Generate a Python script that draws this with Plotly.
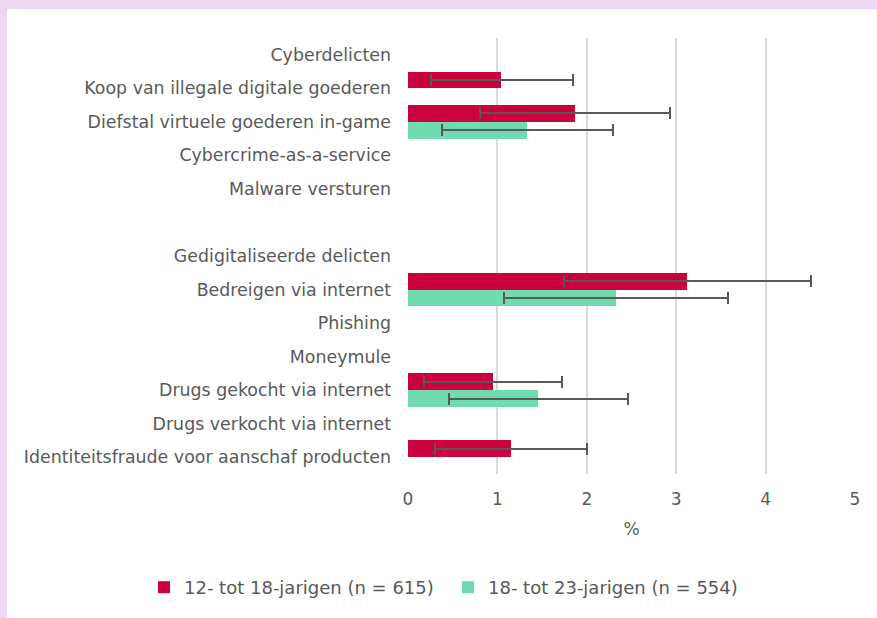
import plotly.graph_objects as go

categories = [
    "Cyberdelicten",
    "Koop van illegale digitale goederen",
    "Diefstal virtuele goederen in-game",
    "Cybercrime-as-a-service",
    "Malware versturen",
    " ",
    "Gedigitaliseerde delicten",
    "Bedreigen via internet",
    "Phishing",
    "Moneymule",
    "Drugs gekocht via internet",
    "Drugs verkocht via internet",
    "Identiteitsfraude voor aanschaf producten",
]

# 12- tot 18-jarigen
young_vals = [None, 1.045, 1.868, None, None, None, None, 3.125, None, None, 0.951, None, 1.149]
young_low = [None, 0.254, 0.805, None, None, None, None, 1.749, None, None, 0.179, None, 0.298]
young_high = [None, 1.84, 2.927, None, None, None, None, 4.504, None, None, 1.719, None, 2.002]

# 18- tot 23-jarigen
older_vals = [None, None, 1.336, None, None, None, None, 2.327, None, None, 1.459, None, None]
older_low = [None, None, 0.38, None, None, None, None, 1.078, None, None, 0.463, None, None]
older_high = [None, None, 2.293, None, None, None, None, 3.584, None, None, 2.461, None, None]

series_names = ["12- tot 18-jarigen (n = 615)", "18- tot 23-jarigen (n = 554)"]
x_ticks = [0, 1, 2, 3, 4, 5]


def err(vals, low, high):
    plus = [None if v is None else h - v for v, h in zip(vals, high)]
    minus = [None if v is None else v - l for v, l in zip(vals, low)]
    return plus, minus


FONT = "DejaVu Sans"
GREY = "#595959"

fig = go.Figure()
for name, vals, low, high, color in [
    (series_names[0], young_vals, young_low, young_high, "#CC003D"),
    (series_names[1], older_vals, older_low, older_high, "#6FDBAF"),
]:
    plus, minus = err(vals, low, high)
    fig.add_trace(go.Bar(
        y=categories, x=vals, orientation="h", name=name,
        marker=dict(color=color, line=dict(width=0)),
        error_x=dict(type="data", symmetric=False, array=plus, arrayminus=minus,
                     color=GREY, thickness=2, width=6),
    ))

W, H = 877, 618
L, R, T, B = 408, 22, 38, 142
pw, ph = W - L - R, H - T - B

def px_x(p):
    return (p - L) / pw

def px_y(p):
    return (H - B - p) / ph

PURPLE = "#EDD8F4"
fig.add_shape(type="rect", xref="paper", yref="paper", x0=px_x(-5), x1=px_x(7), y0=px_y(H + 20), y1=px_y(-5),
              fillcolor=PURPLE, line=dict(width=0), layer="below")
fig.add_shape(type="rect", xref="paper", yref="paper", x0=px_x(-5), x1=px_x(W + 5), y0=px_y(9), y1=px_y(-5),
              fillcolor=PURPLE, line=dict(width=0), layer="below")

fig.update_layout(
    width=W, height=H,
    margin=dict(l=L, r=R, t=T, b=B),
    paper_bgcolor="white", plot_bgcolor="white",
    barmode="group", bargap=0.0, bargroupgap=0.0,
    font=dict(family=FONT, size=17, color=GREY),
    showlegend=True,
    legend=dict(orientation="h", xref="paper", yref="paper", x=px_x(144), y=px_y(590),
                xanchor="left", yanchor="middle", font=dict(family=FONT, size=18, color=GREY),
                itemwidth=30, entrywidth=259, entrywidthmode="pixels",
                traceorder="normal", bgcolor="rgba(0,0,0,0)"),
    xaxis=dict(range=[0, 5], tickvals=x_ticks, showgrid=True, gridcolor="#D9D9D9", gridwidth=2,
               zeroline=False, showline=False, ticks="", ticklabelstandoff=13,
               title=dict(text="%", standoff=15, font=dict(family=FONT, size=17, color=GREY)),
               tickfont=dict(family=FONT, size=17, color=GREY)),
    yaxis=dict(categoryorder="array", categoryarray=categories, autorange="reversed",
               showgrid=False, zeroline=False, showline=False, ticks="", ticklabelstandoff=16,
               tickfont=dict(family=FONT, size=17.4, color=GREY)),
)

fig.write_html("out.html", config={"displayModeBar": False},
               post_script="document.body.style.margin='0px';document.body.style.padding='0px';")
